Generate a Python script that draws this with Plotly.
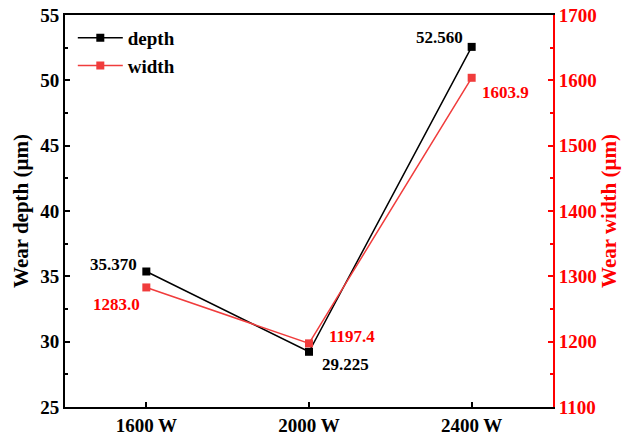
import plotly.graph_objects as go

# Laser power levels and measured wear scar dimensions
power = ["1600 W", "2000 W", "2400 W"]
depth = [35.370, 29.225, 52.560]
width = [1283.0, 1197.4, 1603.9]

depth_labels = ["35.370", "29.225", "52.560"]
width_labels = ["1283.0", "1197.4", "1603.9"]

# label placement relative to each point: (xanchor, xshift, yshift)
depth_offsets = [("right", -7, 7), ("left", 11, -13), ("right", -7, 9)]
width_offsets = [("right", -4, -17), ("left", 18, 7), ("left", 8, -15)]

FONT = "Liberation Serif"
RED = "#FF0000"
LINE_RED = "#F03C3C"

fig = go.Figure()

fig.add_trace(go.Scatter(
    x=power, y=depth, name="depth", mode="lines+markers",
    line=dict(color="black", width=1.5),
    marker=dict(symbol="square", size=8, color="black"),
    yaxis="y",
))

fig.add_trace(go.Scatter(
    x=power, y=width, name="width", mode="lines+markers",
    line=dict(color=LINE_RED, width=1.5),
    marker=dict(symbol="square", size=8, color=LINE_RED),
    yaxis="y2",
))

for xv, yv, txt, (xa, dx, dy) in zip(power, depth, depth_labels, depth_offsets):
    fig.add_annotation(x=xv, y=yv, xref="x", yref="y", text=txt, showarrow=False,
                       xanchor=xa, yanchor="middle", xshift=dx, yshift=dy,
                       font=dict(family=FONT, size=17, color="black", weight="bold"))

for xv, yv, txt, (xa, dx, dy) in zip(power, width, width_labels, width_offsets):
    fig.add_annotation(x=xv, y=yv, xref="x", yref="y2", text=txt, showarrow=False,
                       xanchor=xa, yanchor="middle", xshift=dx, yshift=dy,
                       font=dict(family=FONT, size=17, color=RED, weight="bold"))

fig.update_layout(
    width=626, height=442,
    margin=dict(l=65, r=73, t=15, b=35),
    plot_bgcolor="white", paper_bgcolor="white",
    font=dict(family=FONT, size=18, color="black"),
    showlegend=True,
    legend=dict(
        x=0.016, y=0.99, xanchor="left", yanchor="top",
        bgcolor="rgba(0,0,0,0)",
        font=dict(family=FONT, size=19, color="black", weight="bold"),
        itemwidth=45, tracegroupgap=0,
    ),
    xaxis=dict(
        type="category", range=[-0.5, 2.5], automargin=False,
        showline=True, linecolor="black", linewidth=2, mirror=True,
        ticks="inside", ticklen=5, tickwidth=1.5, tickcolor="black",
        tickfont=dict(family=FONT, size=19, color="black", weight="bold"),
        showgrid=False, zeroline=False,
    ),
    yaxis=dict(
        range=[25, 55], dtick=5, tick0=25, automargin=False,
        showline=True, linecolor="black", linewidth=2,
        ticks="inside", ticklen=5, tickwidth=1.5, tickcolor="black",
        minor=dict(ticks="inside", dtick=2.5, ticklen=3, tickcolor="black", tickwidth=1.5),
        tickfont=dict(family=FONT, size=19, color="black", weight="bold"),
        title=dict(text="Wear depth (μm)", font=dict(family=FONT, size=21, color="black", weight="bold"), standoff=6),
        showgrid=False, zeroline=False,
    ),
    yaxis2=dict(
        range=[1100, 1700], dtick=100, tick0=1100, automargin=False,
        overlaying="y", side="right",
        showline=True, linecolor=RED, linewidth=2,
        ticks="inside", ticklen=5, tickwidth=1.5, tickcolor=RED,
        minor=dict(ticks="inside", dtick=50, ticklen=3, tickcolor=RED, tickwidth=1.5),
        tickfont=dict(family=FONT, size=19, color=RED, weight="bold"),
        title=dict(text="Wear width (μm)", font=dict(family=FONT, size=21, color=RED, weight="bold"), standoff=6),
        showgrid=False, zeroline=False,
    ),
)

fig.write_html("out.html")
